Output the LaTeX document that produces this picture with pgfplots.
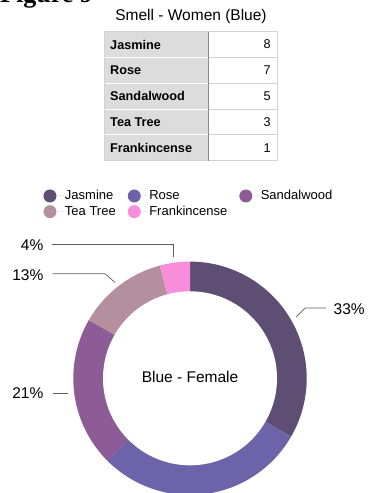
\documentclass[border=0pt]{standalone}
\usepackage{fontspec}
\setmainfont{Liberation Sans}
\newfontfamily\seriffont{Liberation Serif}
\usepackage{pgfplots}
\usepackage{pgfplotstable}
\pgfplotsset{compat=1.18}
\definecolor{cJas}{HTML}{5F4E74}
\definecolor{cRos}{HTML}{6C63A9}
\definecolor{cSan}{HTML}{8D5C97}
\definecolor{cTea}{HTML}{B4909F}
\definecolor{cFra}{HTML}{F88EDB}
\definecolor{leader}{HTML}{5E5E5E}
\definecolor{tgrey}{HTML}{DCDCDC}
\definecolor{tline}{HTML}{D2D2D2}
\definecolor{tdiv}{HTML}{8C8C8C}

\pgfplotstableread[col sep=comma]{
label,value
Jasmine,8
Rose,7
Sandalwood,5
Tea Tree,3
Frankincense,1
}\smelldata

\begin{document}
\begin{tikzpicture}[x=1bp,y=-1bp]
\pgfplotstablegetelem{0}{value}\of\smelldata\let\vA\pgfplotsretval
\pgfplotstablegetelem{1}{value}\of\smelldata\let\vB\pgfplotsretval
\pgfplotstablegetelem{2}{value}\of\smelldata\let\vC\pgfplotsretval
\pgfplotstablegetelem{3}{value}\of\smelldata\let\vD\pgfplotsretval
\pgfplotstablegetelem{4}{value}\of\smelldata\let\vE\pgfplotsretval
\pgfmathsetmacro\total{\vA+\vB+\vC+\vD+\vE}
\pgfmathsetmacro\aA{90}
\pgfmathsetmacro\aB{\aA-360*\vA/\total}
\pgfmathsetmacro\aC{\aB-360*\vB/\total}
\pgfmathsetmacro\aD{\aC-360*\vC/\total}
\pgfmathsetmacro\aE{\aD-360*\vD/\total}
\pgfmathsetmacro\aF{\aE-360*\vE/\total}
\pgfmathtruncatemacro\pA{round(100*\vA/\total)}
\pgfmathtruncatemacro\pC{round(100*\vC/\total)}
\pgfmathtruncatemacro\pD{round(100*\vD/\total)}
\pgfmathtruncatemacro\pE{round(100*\vE/\total)}

% cut-off figure caption at the top
\node[anchor=base west, inner sep=0pt, font=\seriffont\bfseries\fontsize{26bp}{30bp}\selectfont] at (0,3) {Figure 9};

% title
\node[anchor=base, inner sep=0pt, font=\fontsize{15.5bp}{18bp}\selectfont] at (191,20.5) {Smell - Women (Blue)};

% table
\fill[tgrey] (104,31.7) rectangle (208.3,160.7);
\foreach \yy in {57.5,83.3,109.1,134.9}{
  \draw[white, line width=0.9bp] (104,\yy) -- (208.3,\yy);
  \draw[tline, line width=0.9bp] (208.3,\yy) -- (277,\yy);
}
\draw[tline, line width=0.9bp] (104,31.7) rectangle (277,160.7);
\draw[tdiv, line width=1bp] (208.3,31.7) -- (208.3,160.7);
\foreach \nm/\vv/\yy in {Jasmine/8/44.6, Rose/7/70.4, Sandalwood/5/96.2, Tea Tree/3/122, Frankincense/1/147.8}{
  \node[anchor=west, inner sep=0pt, font=\bfseries\fontsize{12.7bp}{15bp}\selectfont] at (110,\yy) {\nm};
  \node[anchor=east, inner sep=0pt, font=\fontsize{12.7bp}{15bp}\selectfont] at (271,\yy) {\vv};
}

\begin{axis}[
  at={(190bp,-378.3bp)}, anchor=center,
  x=116.7bp, y=116.7bp,
  xmin=-1.2, xmax=1.2, ymin=-1.2, ymax=1.2,
  hide axis, clip=false,
  legend columns=3,
  legend cell align=left,
  legend image code/.code={\fill[#1] (6.5bp,0bp) circle[radius=6.5bp]; \path (0bp,0bp) -- (20.5bp,0bp);},
  legend style={draw=none, fill=none, inner sep=0pt, outer sep=0pt,
    at={(-0.0232,1.176)}, anchor=north west,
    font=\fontsize{13bp}{15.7bp}\selectfont, row sep=1.7bp,
    nodes={inner sep=1bp, text height=9.5bp, text depth=2.5bp},
    /tikz/every even column/.append style={column sep=11bp}},
]
\addplot[draw=none, fill=cJas, domain=\aB:\aA, samples=90, variable=\t] ({cos(\t)},{sin(\t)}) -- (axis cs:0,0) -- cycle;
\addlegendentry{Jasmine}
\addplot[draw=none, fill=cRos, domain=\aC:\aB, samples=90, variable=\t] ({cos(\t)},{sin(\t)}) -- (axis cs:0,0) -- cycle;
\addlegendentry{Rose}
\addplot[draw=none, fill=cSan, domain=\aD:\aC, samples=70, variable=\t] ({cos(\t)},{sin(\t)}) -- (axis cs:0,0) -- cycle;
\addlegendentry{Sandalwood}
\addplot[draw=none, fill=cTea, domain=\aE:\aD, samples=50, variable=\t] ({cos(\t)},{sin(\t)}) -- (axis cs:0,0) -- cycle;
\addlegendentry{Tea Tree}
\addplot[draw=none, fill=cFra, domain=\aF:\aE, samples=20, variable=\t] ({cos(\t)},{sin(\t)}) -- (axis cs:0,0) -- cycle;
\addlegendentry{Frankincense}
\addplot[forget plot, draw=none, fill=white, domain=0:360, samples=181, variable=\t] ({0.7455*cos(\t)},{0.7455*sin(\t)}) -- cycle;
\end{axis}

% centre label
\node[anchor=base, inner sep=0pt, font=\fontsize{15.5bp}{18bp}\selectfont] at (190,382.7) {Blue - Female};

% leader lines and percentages
\draw[leader, line width=0.7bp] (51.7,244.3) -- (173,244.3) -- (173,257);
\draw[leader, line width=0.7bp] (52.7,273.7) -- (105,273.7) -- (115,282.5);
\draw[leader, line width=0.7bp] (326,308) -- (305,308) -- (296,317);
\draw[leader, line width=0.7bp] (53,393.4) -- (68,393.4);
\begin{scope}[every node/.style={inner sep=0pt, font=\fontsize{15.5bp}{18bp}\selectfont}]
\node[anchor=base east] at (43.5,250.6) {\pE\%};
\node[anchor=base east] at (43.5,280.6) {\pD\%};
\node[anchor=base east] at (43.5,398) {\pC\%};
\node[anchor=base west] at (333.5,314) {\pA\%};
\end{scope}

\pgfresetboundingbox
\path[use as bounding box] (0,0) rectangle (369,493);
\end{tikzpicture}
\end{document}
